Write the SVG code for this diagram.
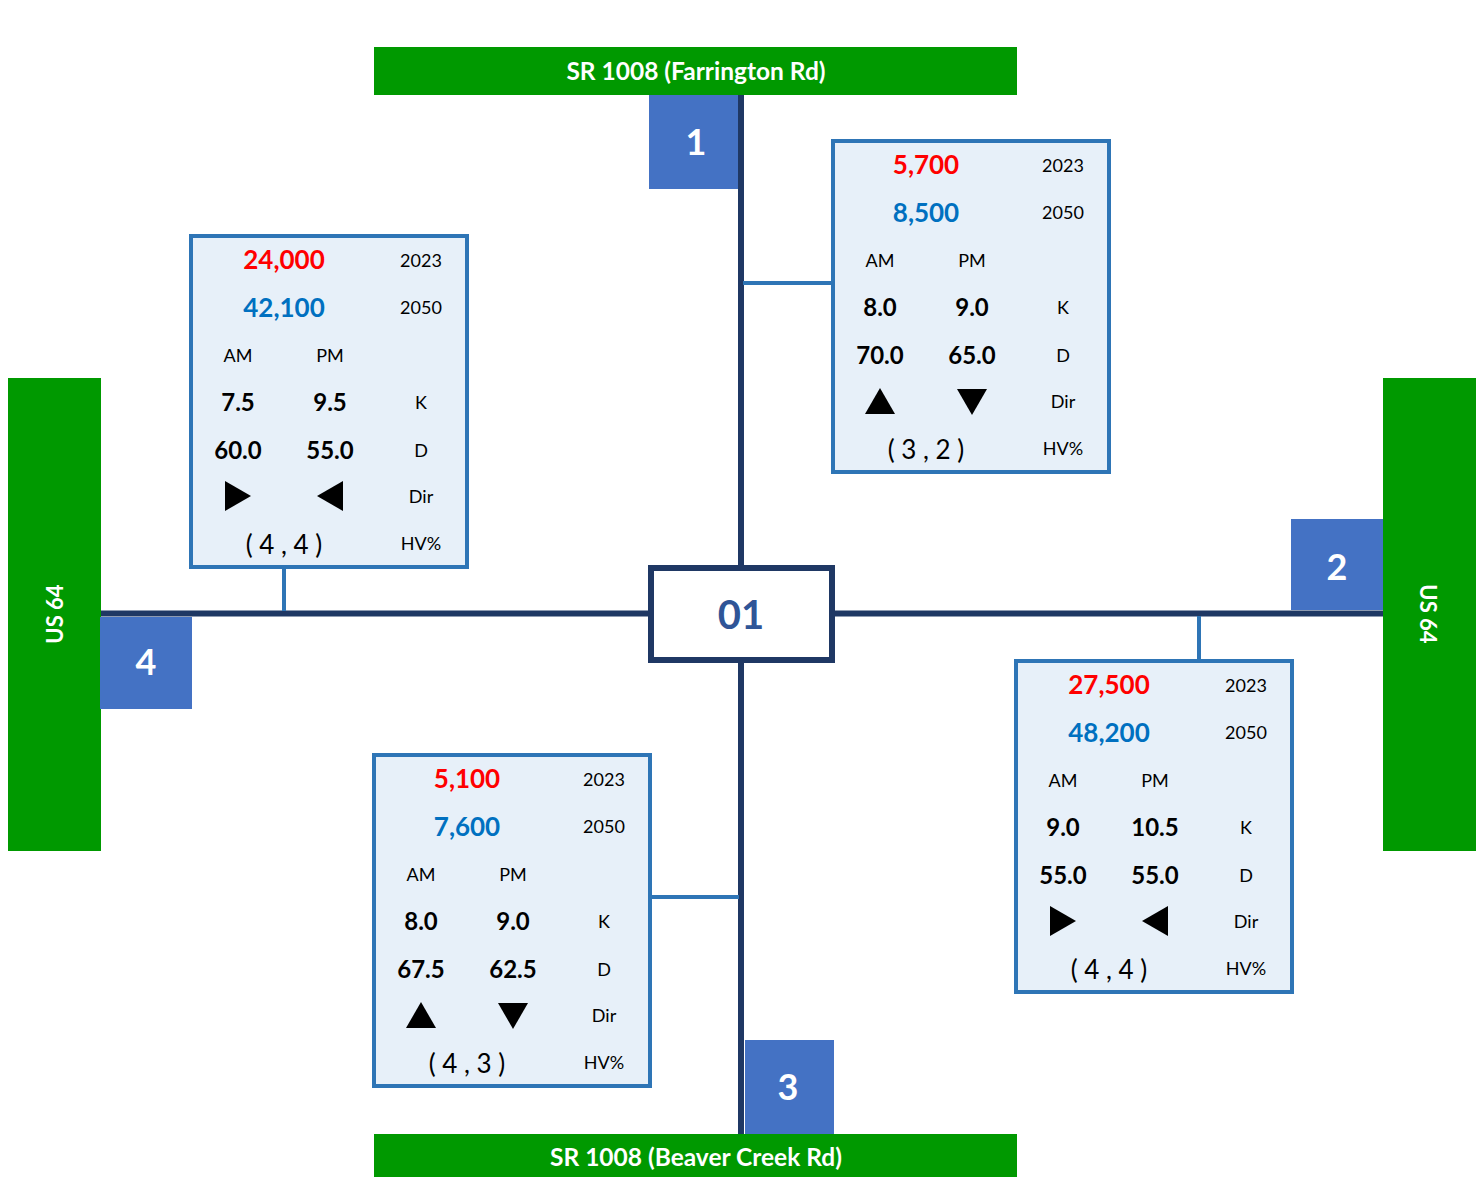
<svg xmlns="http://www.w3.org/2000/svg" width="1478" height="1177" viewBox="0 0 1478 1177">
<style>
.road{fill:#009900}
.roadt{fill:#fff;font-family:Lato,"Open Sans",sans-serif;font-weight:bold;font-size:24.5px;text-anchor:middle}
.roadv{fill:#fff;font-family:Lato,"Open Sans",sans-serif;font-weight:bold;font-size:22px;text-anchor:middle}
.lbl{fill:#4472C4}
.lblt{fill:#fff;font-family:Lato,"Open Sans",sans-serif;font-weight:bold;font-size:36px;text-anchor:middle}
.info{fill:#E7F0F9;stroke:#2E75B6;stroke-width:4}
.t{font-family:Lato,"Open Sans",sans-serif;text-anchor:middle;fill:#000}
.big{font-size:26px;font-weight:bold}
.red{fill:#FF0000}
.blue{fill:#0070C0}
.sm{font-size:18px}
.val{font-size:24px;font-weight:bold}
.hv{font-size:26px}
.conn{stroke:#2E75B6;stroke-width:4;fill:none}
.main{stroke:#1F3864;stroke-width:6;fill:none}
</style>
<defs>
<g id="rows">
<text class="t sm" x="230" y="31">2023</text>
<text class="t sm" x="230" y="78">2050</text>
<text class="t sm" x="47" y="126">AM</text>
<text class="t sm" x="139" y="126">PM</text>
<text class="t sm" x="230" y="173">K</text>
<text class="t sm" x="230" y="221">D</text>
<text class="t sm" x="230" y="267">Dir</text>
<text class="t sm" x="230" y="314">HV%</text>
</g>
<g id="lr">
<polygon points="34,245 60,260 34,275" fill="#000"/>
<polygon points="152,245 126,260 152,275" fill="#000"/>
</g>
<g id="ud">
<polygon points="32,273 47,247 62,273" fill="#000"/>
<polygon points="124,248 154,248 139,274" fill="#000"/>
</g>
</defs>

<g id="roads">
<rect class="road" x="374" y="47" width="643" height="48"/>
<text class="roadt" x="696" y="80">SR 1008 (Farrington Rd)</text>
<rect class="road" x="374" y="1134" width="643" height="43"/>
<text class="roadt" x="696" y="1166">SR 1008 (Beaver Creek Rd)</text>
<rect class="road" x="8" y="378" width="93" height="473"/>
<text class="roadv" transform="translate(63,614) rotate(-90)">US 64</text>
<rect class="road" x="1383" y="378" width="93" height="473"/>
<text class="roadv" transform="translate(1420,614) rotate(90)">US 64</text>
</g>

<g id="connectors">
<line class="main" x1="741" y1="95" x2="741" y2="1134"/>
<line class="main" x1="101" y1="613.5" x2="1383" y2="613.5"/>
<line class="conn" x1="284" y1="567" x2="284" y2="611"/>
<line class="conn" x1="743" y1="283" x2="833" y2="283"/>
<line class="conn" x1="1199" y1="616" x2="1199" y2="661"/>
<line class="conn" x1="650" y1="897" x2="739" y2="897"/>
</g>

<g id="node-01">
<rect x="651" y="568" width="181" height="92" fill="#fff" stroke="#1F3864" stroke-width="6"/>
<text class="t" x="741" y="629" font-size="40" font-weight="bold" style="fill:#2F5597">01</text>
</g>

<g id="leg-1">
<rect class="lbl" x="649" y="95" width="89" height="94"/>
<text class="lblt" x="696" y="155">1</text>
</g>
<g id="leg-2">
<rect class="lbl" x="1291" y="519" width="92" height="91"/>
<text class="lblt" x="1337" y="580">2</text>
</g>
<g id="leg-3">
<rect class="lbl" x="745" y="1040" width="89" height="94"/>
<text class="lblt" x="788" y="1100">3</text>
</g>
<g id="leg-4">
<rect class="lbl" x="100" y="617" width="92" height="92"/>
<text class="lblt" x="146" y="675">4</text>
</g>

<g id="info-4" transform="translate(191,236)">
<rect class="info" x="0" y="0" width="276" height="331"/>
<text class="t big red" x="93" y="33">24,000</text>
<text class="t big blue" x="93" y="81">42,100</text>
<use href="#rows"/>
<text class="t val" x="47" y="175">7.5</text>
<text class="t val" x="139" y="175">9.5</text>
<text class="t val" x="47" y="223">60.0</text>
<text class="t val" x="139" y="223">55.0</text>
<use href="#lr"/>
<text class="t hv" x="93" y="318">( 4 , 4 )</text>
</g>

<g id="info-1" transform="translate(833,141)">
<rect class="info" x="0" y="0" width="276" height="331"/>
<text class="t big red" x="93" y="33">5,700</text>
<text class="t big blue" x="93" y="81">8,500</text>
<use href="#rows"/>
<text class="t val" x="47" y="175">8.0</text>
<text class="t val" x="139" y="175">9.0</text>
<text class="t val" x="47" y="223">70.0</text>
<text class="t val" x="139" y="223">65.0</text>
<use href="#ud"/>
<text class="t hv" x="93" y="318">( 3 , 2 )</text>
</g>

<g id="info-2" transform="translate(1016,661)">
<rect class="info" x="0" y="0" width="276" height="331"/>
<text class="t big red" x="93" y="33">27,500</text>
<text class="t big blue" x="93" y="81">48,200</text>
<use href="#rows"/>
<text class="t val" x="47" y="175">9.0</text>
<text class="t val" x="139" y="175">10.5</text>
<text class="t val" x="47" y="223">55.0</text>
<text class="t val" x="139" y="223">55.0</text>
<use href="#lr"/>
<text class="t hv" x="93" y="318">( 4 , 4 )</text>
</g>

<g id="info-3" transform="translate(374,755)">
<rect class="info" x="0" y="0" width="276" height="331"/>
<text class="t big red" x="93" y="33">5,100</text>
<text class="t big blue" x="93" y="81">7,600</text>
<use href="#rows"/>
<text class="t val" x="47" y="175">8.0</text>
<text class="t val" x="139" y="175">9.0</text>
<text class="t val" x="47" y="223">67.5</text>
<text class="t val" x="139" y="223">62.5</text>
<use href="#ud"/>
<text class="t hv" x="93" y="318">( 4 , 3 )</text>
</g>
</svg>
